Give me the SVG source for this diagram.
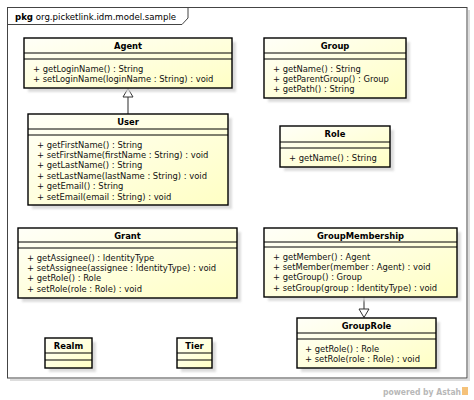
<svg xmlns="http://www.w3.org/2000/svg" width="474" height="400" viewBox="0 0 474 400">
<style>
.bg{fill:#ffffff}
.frame{fill:none;stroke:#444444;stroke-width:1}
.fshadow{fill:none;stroke:#dddddd;stroke-width:2}
.box{fill:url(#yel);stroke:#000000;stroke-width:1.4}
.shadow{fill:#d4d4d4;opacity:0.8}
.sep{stroke:#000000;stroke-width:1}
.name{font-family:"DejaVu Sans",sans-serif;font-size:8.4px;font-weight:bold;fill:#000000;text-anchor:middle}
.op{font-family:"DejaVu Sans",sans-serif;font-size:8.4px;fill:#111111}
.tab{font-family:"DejaVu Sans",sans-serif;font-size:8.6px;fill:#000000}
.gen{stroke:#7a7a7a;stroke-width:1.6;fill:none}
.tri{fill:#ffffff;stroke:#333333;stroke-width:1}
.credit{font-family:"DejaVu Sans",sans-serif;font-size:8.5px;font-weight:bold;fill:#b8b8b8}
</style>
<defs>
<linearGradient id="yel" x1="0" y1="0" x2="1" y2="1">
<stop offset="0" stop-color="#fffff8"/>
<stop offset="1" stop-color="#ffffc4"/>
</linearGradient>
<filter id="blur" x="-10%" y="-10%" width="120%" height="120%"><feGaussianBlur stdDeviation="1"/></filter>
</defs>
<rect class="bg" x="0" y="0" width="474" height="400"/>
<g id="package">
<path class="fshadow" d="M469 10 V380 H10"/>
<rect class="frame" x="7.5" y="7.5" width="459.5" height="370.5"/>
<path class="frame" d="M7.5 24.5 H182 L188 18 V7.5"/>
<text class="tab" x="15" y="19.5"><tspan font-weight="bold">pkg</tspan> org.picketlink.idm.model.sample</text>
</g>
<g id="connectors">
<line class="gen" x1="128" y1="97" x2="128" y2="114"/>
<polygon class="tri" points="128,88.5 123,97 133,97"/>
<line class="gen" x1="364" y1="297" x2="364" y2="309"/>
<polygon class="tri" points="364,317.5 359,309 369,309"/>
</g>
<g id="Agent">
<rect class="shadow" x="28" y="42" width="208" height="50" filter="url(#blur)"/>
<rect class="box" x="24" y="38" width="208" height="50"/>
<line class="sep" x1="24" y1="53" x2="232" y2="53"/>
<line class="sep" x1="24" y1="59" x2="232" y2="59"/>
<text class="name" x="128" y="49">Agent</text>
<text class="op" x="33" y="71.5">+ getLoginName() : String</text>
<text class="op" x="33" y="81.9">+ setLoginName(loginName : String) : void</text>
</g>
<g id="User">
<rect class="shadow" x="32" y="118" width="200" height="91" filter="url(#blur)"/>
<rect class="box" x="28" y="114" width="200" height="91"/>
<line class="sep" x1="28" y1="129" x2="228" y2="129"/>
<line class="sep" x1="28" y1="135" x2="228" y2="135"/>
<text class="name" x="128" y="125">User</text>
<text class="op" x="37" y="147.5">+ getFirstName() : String</text>
<text class="op" x="37" y="157.9">+ setFirstName(firstName : String) : void</text>
<text class="op" x="37" y="168.3">+ getLastName() : String</text>
<text class="op" x="37" y="178.7">+ setLastName(lastName : String) : void</text>
<text class="op" x="37" y="189.1">+ getEmail() : String</text>
<text class="op" x="37" y="199.5">+ setEmail(email : String) : void</text>
</g>
<g id="Group">
<rect class="shadow" x="268" y="42" width="142" height="60" filter="url(#blur)"/>
<rect class="box" x="264" y="38" width="142" height="60"/>
<line class="sep" x1="264" y1="53" x2="406" y2="53"/>
<line class="sep" x1="264" y1="59" x2="406" y2="59"/>
<text class="name" x="335" y="49">Group</text>
<text class="op" x="273" y="71.5">+ getName() : String</text>
<text class="op" x="273" y="81.9">+ getParentGroup() : Group</text>
<text class="op" x="273" y="92.3">+ getPath() : String</text>
</g>
<g id="Role">
<rect class="shadow" x="284" y="130" width="110" height="41" filter="url(#blur)"/>
<rect class="box" x="280" y="126" width="110" height="41"/>
<line class="sep" x1="280" y1="142" x2="390" y2="142"/>
<line class="sep" x1="280" y1="148" x2="390" y2="148"/>
<text class="name" x="335" y="137">Role</text>
<text class="op" x="289" y="160.5">+ getName() : String</text>
</g>
<g id="Grant">
<rect class="shadow" x="22" y="232" width="219" height="70" filter="url(#blur)"/>
<rect class="box" x="18" y="228" width="219" height="70"/>
<line class="sep" x1="18" y1="242" x2="237" y2="242"/>
<line class="sep" x1="18" y1="248" x2="237" y2="248"/>
<text class="name" x="127.5" y="238.5">Grant</text>
<text class="op" x="27" y="260.5">+ getAssignee() : IdentityType</text>
<text class="op" x="27" y="270.9">+ setAssignee(assignee : IdentityType) : void</text>
<text class="op" x="27" y="281.3">+ getRole() : Role</text>
<text class="op" x="27" y="291.7">+ setRole(role : Role) : void</text>
</g>
<g id="GroupMembership">
<rect class="shadow" x="268" y="232" width="193" height="69" filter="url(#blur)"/>
<rect class="box" x="264" y="228" width="193" height="69"/>
<line class="sep" x1="264" y1="242" x2="457" y2="242"/>
<line class="sep" x1="264" y1="247" x2="457" y2="247"/>
<text class="name" x="360.5" y="238.5">GroupMembership</text>
<text class="op" x="273" y="259.5">+ getMember() : Agent</text>
<text class="op" x="273" y="269.9">+ setMember(member : Agent) : void</text>
<text class="op" x="273" y="280.3">+ getGroup() : Group</text>
<text class="op" x="273" y="290.7">+ setGroup(group : IdentityType) : void</text>
</g>
<g id="GroupRole">
<rect class="shadow" x="301" y="322" width="139" height="50" filter="url(#blur)"/>
<rect class="box" x="297" y="318" width="139" height="50"/>
<line class="sep" x1="297" y1="333" x2="436" y2="333"/>
<line class="sep" x1="297" y1="339" x2="436" y2="339"/>
<text class="name" x="366.5" y="329">GroupRole</text>
<text class="op" x="305" y="351.5">+ getRole() : Role</text>
<text class="op" x="305" y="361.9">+ setRole(role : Role) : void</text>
</g>
<g id="Realm">
<rect class="shadow" x="49" y="342" width="47" height="30" filter="url(#blur)"/>
<rect class="box" x="45" y="338" width="47" height="30"/>
<line class="sep" x1="45" y1="353" x2="92" y2="353"/>
<line class="sep" x1="45" y1="360" x2="92" y2="360"/>
<text class="name" x="68.5" y="349">Realm</text>
</g>
<g id="Tier">
<rect class="shadow" x="181" y="342" width="35" height="30" filter="url(#blur)"/>
<rect class="box" x="177" y="338" width="35" height="30"/>
<line class="sep" x1="177" y1="353" x2="212" y2="353"/>
<line class="sep" x1="177" y1="360" x2="212" y2="360"/>
<text class="name" x="194.5" y="349">Tier</text>
</g>
<g id="credit">
<text class="credit" x="383" y="395" textLength="78" lengthAdjust="spacingAndGlyphs">powered by Astah</text>
<rect x="462" y="387" width="6" height="8" fill="#f5c27a"/>
</g>
</svg>
